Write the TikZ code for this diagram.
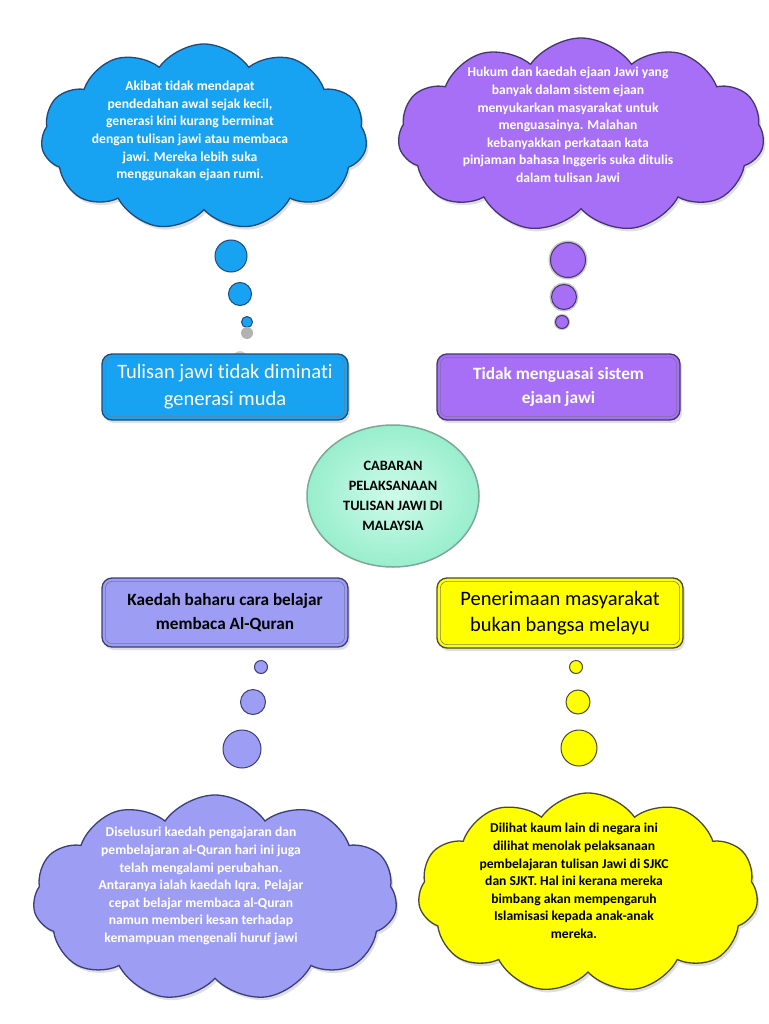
\documentclass[tikz,border=0pt]{standalone}
\usepackage{fontspec}
\setmainfont[Ligatures=NoCommon]{Carlito}
\usetikzlibrary{shapes.symbols,shapes.geometric,shadows}
\definecolor{bluefill}{HTML}{18A2F2}
\definecolor{blueline}{HTML}{1F4A78}
\definecolor{purfill}{HTML}{A66FF6}
\definecolor{purline}{HTML}{45376E}
\definecolor{lavfill}{HTML}{9D9DF4}
\definecolor{lavline}{HTML}{3A3F78}
\definecolor{yelfill}{HTML}{FFFF00}
\definecolor{yelline}{HTML}{4A4A30}
\definecolor{mintin}{HTML}{CFFBEA}
\definecolor{mintout}{HTML}{98EECD}
\definecolor{mintline}{HTML}{7DA898}
\tikzset{
  cloudbase/.style={cloud, cloud puffs=11, cloud puff arc=110, aspect=1.7,
    inner sep=0pt, line width=1.3pt,
    drop shadow={opacity=0.25, shadow xshift=2pt, shadow yshift=-3pt}},
  cloudtext/.style={align=center, font=\bfseries\fontsize{13.6}{17.6}\selectfont},
  boxbase/.style={rectangle, rounded corners=10pt, line width=1.3pt,
    inner sep=0pt, align=center,
    drop shadow={opacity=0.25, shadow xshift=2pt, shadow yshift=-3pt}},
  bevel/.style={rounded corners=7pt, line width=0.6pt},
  bub/.style={circle, inner sep=0pt, line width=1pt},
}
\begin{document}
\begin{tikzpicture}[x=1pt,y=-1pt]
\useasboundingbox[fill=white] (0,0) rectangle (768,1024);

% ---- top left cloud
\node[cloudbase, fill=bluefill, draw=blueline, minimum width=326, minimum height=186] (cblue) at (204,137) {};
\node[cloudtext, text=white] (tblue) at (190,131) {Akibat tidak mendapat\\pendedahan awal sejak kecil,\\generasi kini kurang berminat\\dengan tulisan jawi atau membaca\\jawi. Mereka lebih suka\\menggunakan ejaan rumi.};

% ---- top right cloud
\node[cloudbase, fill=purfill, draw=purline, minimum width=366, minimum height=194] (cpur) at (581,135) {};
\node[cloudtext, text=white] (tpur) at (568,125) {Hukum dan kaedah ejaan Jawi yang\\banyak dalam sistem ejaan\\menyukarkan masyarakat untuk\\menguasainya. Malahan\\kebanyakkan perkataan kata\\pinjaman bahasa Inggeris suka ditulis\\dalam tulisan Jawi};

% ---- bubbles top left
\node[bub, fill=gray!35, draw=none, minimum size=14] (gb2) at (240,358) {};
\node[bub, fill=bluefill, draw=blueline, minimum size=32] (bb1) at (231,256) {};
\node[bub, fill=bluefill, draw=blueline, minimum size=23] (bb2) at (240,294) {};
\node[bub, fill=bluefill, draw=blueline, minimum size=11] (bb3) at (247,322) {};
\node[bub, fill=gray!60, draw=none, minimum size=12] (gb1) at (247,333) {};

% ---- bubbles top right
\node[bub, fill=purfill, draw=purline, minimum size=35, preaction={draw=gray!45, line width=4pt}] (pb1) at (568,260) {};
\node[bub, fill=purfill, draw=purline, minimum size=25, preaction={draw=gray!45, line width=4pt}] (pb2) at (564,297) {};
\node[bub, fill=purfill, draw=purline, minimum size=13, preaction={draw=gray!45, line width=3pt}] (pb3) at (562,322) {};

% ---- boxes top
\node[boxbase, fill=bluefill, draw=blueline, minimum width=246, minimum height=66, text=white,
  font=\fontsize{20.5}{27}\selectfont] (bblue) at (225,387) {Tulisan jawi tidak diminati\\generasi muda};
\draw[bevel, draw=blueline!70] ([shift={(4,4)}]bblue.north west) rectangle ([shift={(-4,-4)}]bblue.south east);

\node[boxbase, fill=purfill, draw=purline, minimum width=243, minimum height=66, text=white,
  font=\bfseries\fontsize{17.3}{23.5}\selectfont] (bpur) at (558.5,387) {Tidak menguasai sistem\\ejaan jawi};
\draw[bevel, draw=purline!70] ([shift={(4,4)}]bpur.north west) rectangle ([shift={(-4,-4)}]bpur.south east);

% ---- centre ellipse
\node[ellipse, minimum width=172, minimum height=142, inner color=mintin, outer color=mintout,
  draw=mintline, line width=1.5pt, align=center,
  font=\bfseries\fontsize{14.3}{20}\selectfont] (centre) at (393,496) {CABARAN\\PELAKSANAAN\\TULISAN JAWI DI\\MALAYSIA};

% ---- boxes bottom
\node[boxbase, fill=lavfill, draw=lavline, minimum width=246, minimum height=69, text=black,
  font=\bfseries\fontsize{17.2}{24}\selectfont] (blav) at (225,612.5) {Kaedah baharu cara belajar\\membaca Al-Quran};
\draw[bevel, draw=lavline!70] ([shift={(4,4)}]blav.north west) rectangle ([shift={(-4,-4)}]blav.south east);

\node[boxbase, fill=yelfill, draw=yelline, minimum width=246, minimum height=70, text=black,
  font=\fontsize{20.5}{26}\selectfont] (byel) at (560,613) {Penerimaan masyarakat\\bukan bangsa melayu};
\draw[bevel, draw=yelline!70] ([shift={(4,4)}]byel.north west) rectangle ([shift={(-4,-4)}]byel.south east);

% ---- bubbles bottom
\node[bub, fill=lavfill, draw=lavline, minimum size=13] (lb1) at (261,667) {};
\node[bub, fill=lavfill, draw=lavline, minimum size=25] (lb2) at (253,702) {};
\node[bub, fill=lavfill, draw=lavline, minimum size=38] (lb3) at (242,749) {};
\node[bub, fill=yelfill, draw=yelline, minimum size=13] (yb1) at (576,667) {};
\node[bub, fill=yelfill, draw=yelline, minimum size=24] (yb2) at (578,702) {};
\node[bub, fill=yelfill, draw=yelline, minimum size=36] (yb3) at (579,748) {};

% ---- bottom clouds
\node[cloudbase, fill=lavfill, draw=lavline, minimum width=364, minimum height=206] (clav) at (215,898) {};
\node[cloudtext, text=white] (tlav) at (201,886) {Diselusuri kaedah pengajaran dan\\pembelajaran al-Quran hari ini juga\\telah mengalami perubahan.\\Antaranya ialah kaedah Iqra. Pelajar\\cepat belajar membaca al-Quran\\namun memberi kesan terhadap\\kemampuan mengenali huruf jawi};

\node[cloudbase, fill=yelfill, draw=yelline, minimum width=340, minimum height=200] (cyel) at (588,893) {};
\node[cloudtext, text=black] (tyel) at (574,881) {Dilihat kaum lain di negara ini\\dilihat menolak pelaksanaan\\pembelajaran tulisan Jawi di SJKC\\dan SJKT. Hal ini kerana mereka\\bimbang akan mempengaruh\\Islamisasi kepada anak-anak\\mereka.};
\end{tikzpicture}
\end{document}
